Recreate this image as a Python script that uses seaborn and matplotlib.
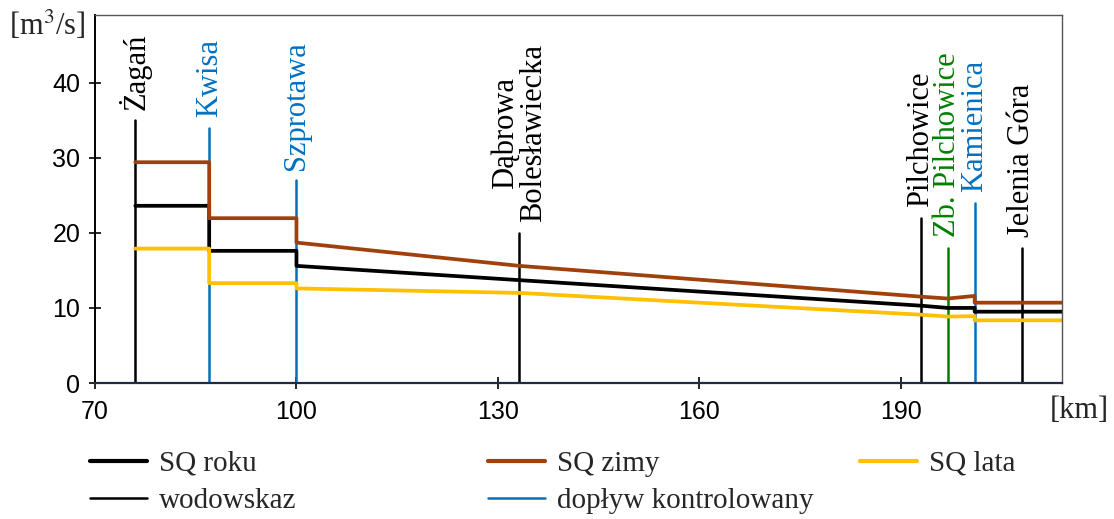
import matplotlib
matplotlib.use("Agg")
import matplotlib.pyplot as plt
from matplotlib.lines import Line2D
import seaborn as sns
import pandas as pd

# river profile: km points (duplicated km = step at a tributary)
km = [76, 87, 87, 100, 100, 133.2, 193, 197, 201, 201, 214]
sq_roku = [23.6, 23.6, 17.6, 17.6, 15.6, 13.7, 10.3, 10.0, 10.0, 9.5, 9.5]
sq_zimy = [29.4, 29.4, 21.95, 21.95, 18.7, 15.6, 11.5, 11.25, 11.6, 10.7, 10.7]
sq_lata = [17.9, 17.9, 13.3, 13.3, 12.6, 12.0, 9.1, 8.85, 8.9, 8.35, 8.35]

# stations and tributaries
station_names = ["Żagań", "Kwisa", "Szprotawa", "Dąbrowa\nBolesławiecka",
                 "Pilchowice", "Zb. Pilchowice", "Kamienica", "Jelenia Góra"]
station_km = [76, 87, 100, 133.2, 193, 197, 201, 208]
station_top = [35, 34, 27, 20, 22, 18, 24, 18]
station_kind = ["wodowskaz", "doplyw", "doplyw", "wodowskaz",
                "wodowskaz", "zbiornik", "doplyw", "wodowskaz"]

kind_colors = {"wodowskaz": "black", "doplyw": "#0070C0", "zbiornik": "#008000"}
series_colors = {"SQ roku": "black", "SQ zimy": "#A0410D", "SQ lata": "#FFC000"}

sns.set_style("ticks")
plt.rcParams["font.family"] = ["Liberation Serif", "DejaVu Serif"]
plt.rcParams["mathtext.fontset"] = "stix"

df = pd.concat([
    pd.DataFrame({"km": km, "Q": sq_roku, "seria": "SQ roku"}),
    pd.DataFrame({"km": km, "Q": sq_zimy, "seria": "SQ zimy"}),
    pd.DataFrame({"km": km, "Q": sq_lata, "seria": "SQ lata"}),
])

fig = plt.figure(figsize=(11.14, 5.19), dpi=100)
ax = fig.add_axes([0.0853, 0.262, 0.868, 0.709])

# station lines
for name, x, top, kind in zip(station_names, station_km, station_top, station_kind):
    c = kind_colors[kind]
    ax.plot([x, x], [0, top], color=c, lw=1.8, zorder=1)
    ax.text(x, top + 1.4, name, rotation=90, ha="center", va="bottom",
            color=c, fontsize=22, multialignment="center", linespacing=1.0)

sns.lineplot(data=df, x="km", y="Q", hue="seria", palette=series_colors,
             sort=False, estimator=None, units="seria", lw=2.7, ax=ax,
             legend=False, zorder=2)

ax.set_xlim(70, 214)
ax.set_ylim(0, 49)
ax.set_xticks([70, 100, 130, 160, 190])
ax.set_yticks([0, 10, 20, 30, 40])
ax.set_xlabel("")
ax.set_ylabel("")
ax.tick_params(axis="both", direction="inout", length=9, width=1.2,
               labelsize=18, colors="black")
ax.tick_params(axis="x", pad=8)
ax.tick_params(axis="y", pad=6)
for lab in ax.get_xticklabels() + ax.get_yticklabels():
    lab.set_family("Liberation Sans")
for side in ["top", "right"]:
    ax.spines[side].set_color("#555555")
    ax.spines[side].set_linewidth(1.0)
ax.spines["left"].set_linewidth(1.4)
ax.spines["left"].set_color("black")
ax.spines["bottom"].set_linewidth(1.6)
ax.spines["bottom"].set_color("#1F2A44")

fig.text(0.008, 0.952, "[m$^3$/s]", fontsize=22, ha="left", va="center")
fig.text(0.995, 0.21, "[km]", fontsize=22, ha="right", va="center")

# legend: three evenly spaced columns
cols = [
    [("SQ roku", "black", 3.0), ("wodowskaz", "black", 1.8)],
    [("SQ zimy", "#A0410D", 3.0), ("dopływ kontrolowany", "#0070C0", 1.8)],
    [("SQ lata", "#FFC000", 3.0)],
]
col_x = [0.0808, 0.438, 0.772]
for x0, col in zip(col_x, cols):
    handles = [Line2D([], [], color=c, lw=w) for _, c, w in col]
    labels = [t for t, _, _ in col]
    fig.legend(handles, labels, loc="upper left", bbox_to_anchor=(x0, 0.132),
               frameon=False, fontsize=21, handlelength=1.95, handletextpad=0.42,
               labelspacing=0.38, borderaxespad=0, borderpad=0)

fig.savefig("out.png", dpi=100)
